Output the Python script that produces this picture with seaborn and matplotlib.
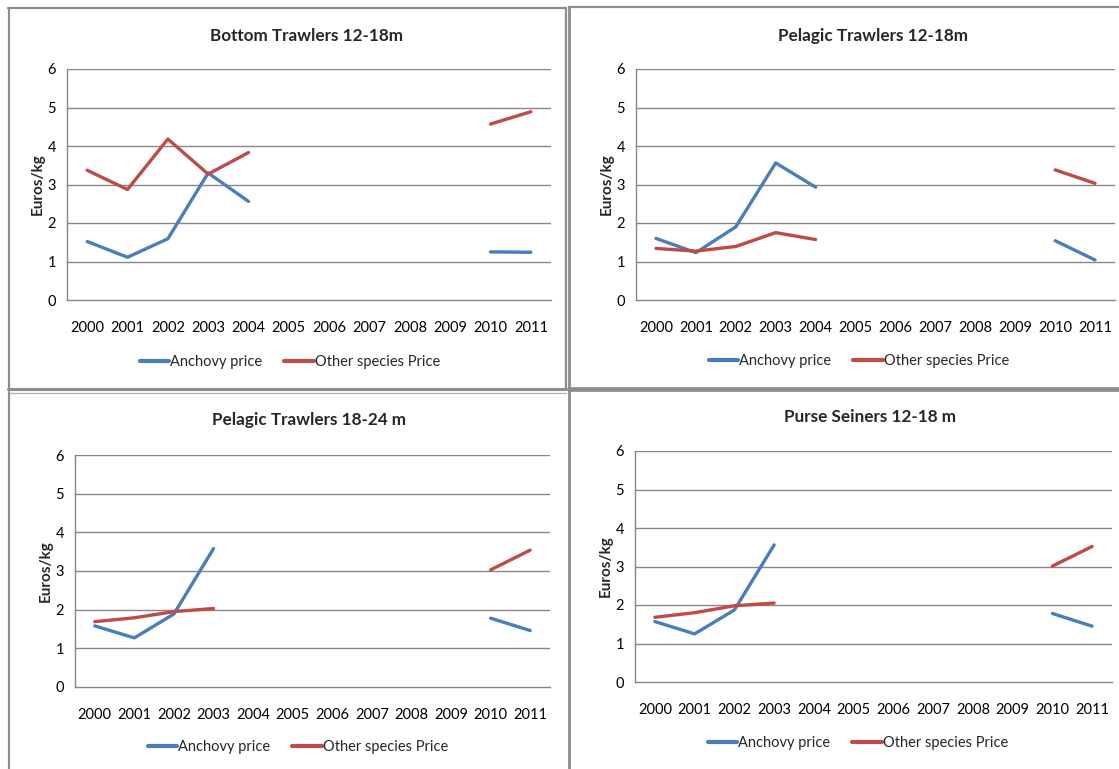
import numpy as np
import pandas as pd
import seaborn as sns
import matplotlib
matplotlib.use("Agg")
import matplotlib.pyplot as plt
from matplotlib.lines import Line2D

# ---- data -------------------------------------------------------------
years = ["2000", "2001", "2002", "2003", "2004", "2005",
         "2006", "2007", "2008", "2009", "2010", "2011"]
series_names = ["Anchovy price", "Other species Price"]

titles = ["Bottom Trawlers 12-18m", "Pelagic Trawlers 12-18m",
          "Pelagic Trawlers 18-24 m", "Purse Seiners 12-18 m"]

# Bottom trawlers 12-18m
bt_years = ["2000", "2001", "2002", "2003", "2004", "2010", "2011"]
bt_anchovy = [1.52, 1.11, 1.59, 3.30, 2.56, 1.25, 1.24]
bt_other = [3.37, 2.87, 4.18, 3.27, 3.83, 4.57, 4.89]

# Pelagic trawlers 12-18m
pt1_years = ["2000", "2001", "2002", "2003", "2004", "2010", "2011"]
pt1_anchovy = [1.60, 1.23, 1.90, 3.56, 2.93, 1.54, 1.04]
pt1_other = [1.34, 1.27, 1.39, 1.75, 1.57, 3.38, 3.03]

# Pelagic trawlers 18-24 m
pt2_years = ["2000", "2001", "2002", "2003", "2010", "2011"]
pt2_anchovy = [1.58, 1.27, 1.89, 3.58, 1.78, 1.46]
pt2_other = [1.69, 1.79, 1.95, 2.03, 3.03, 3.54]

# Purse seiners 12-18 m
ps_years = ["2000", "2001", "2002", "2003", "2010", "2011"]
ps_anchovy = [1.57, 1.25, 1.87, 3.56, 1.78, 1.45]
ps_other = [1.68, 1.80, 1.98, 2.05, 3.01, 3.52]

y_ticks = [0, 1, 2, 3, 4, 5, 6]

panels = [
    (bt_years, bt_anchovy, bt_other),
    (pt1_years, pt1_anchovy, pt1_other),
    (pt2_years, pt2_anchovy, pt2_other),
    (ps_years, ps_anchovy, ps_other),
]

BLUE = "#4A7EBB"
RED = "#BE4B48"
GRID = "#868686"
FRAME = "#8C8C8C"

sns.set_theme(style="white")
plt.rcParams["font.family"] = ["Lato", "DejaVu Sans"]

W, H = 1119, 769
fig = plt.figure(figsize=(W / 100, H / 100), dpi=100)
fig.patch.set_facecolor("white")

# plot areas in pixel coordinates: left, top, right, bottom
boxes = [
    (67, 69, 551, 300),
    (636, 69, 1115, 300),
    (75, 455, 550, 687),
    (635, 451, 1112, 682),
]
legend_y = [362, 361, 747, 743]
title_y = [36, 36, 420, 417]


def long_frame(yrs, anchovy, other):
    rows = []
    for name, vals in zip(series_names, (anchovy, other)):
        prev = None
        seg = 0
        for yr, v in zip(yrs, vals):
            idx = years.index(yr)
            if prev is not None and idx != prev + 1:
                seg += 1
            rows.append({"x": idx, "price": v, "series": name, "seg": seg})
            prev = idx
    return pd.DataFrame(rows)


for i, ((yrs, anc, oth), (l, t, r, b)) in enumerate(zip(panels, boxes)):
    ax = fig.add_axes([l / W, 1 - b / H, (r - l) / W, (b - t) / H])
    df = long_frame(yrs, anc, oth)
    sns.lineplot(data=df, x="x", y="price", hue="series", units="seg",
                 estimator=None, hue_order=series_names,
                 palette=[BLUE, RED], linewidth=2.4, ax=ax,
                 solid_capstyle="round", zorder=3, legend=False)

    ax.set_xlim(-0.5, len(years) - 0.5)
    ax.set_ylim(0, 6)
    ax.set_xticks(range(len(years)))
    ax.set_xticklabels(years)
    ax.set_yticks(y_ticks)
    ax.set_yticklabels([str(v) for v in y_ticks])
    ax.tick_params(axis="x", length=0, pad=15, labelsize=10.5, colors="black")
    ax.tick_params(axis="y", length=0, pad=8, labelsize=10.5, colors="black")
    for v in y_ticks[1:]:
        ax.axhline(v, color=GRID, linewidth=1.0, zorder=1)
    for side in ("top", "right"):
        ax.spines[side].set_visible(False)
    ax.spines["left"].set_color(GRID)
    ax.spines["bottom"].set_color(GRID)
    ax.spines["left"].set_linewidth(1.0)
    ax.spines["bottom"].set_linewidth(1.0)
    ax.set_xlabel("")
    ax.set_ylabel("Euros/kg", fontsize=11, fontweight="bold", labelpad=2)

    # title and legend placed relative to the panel
    cx = ((l + r) / 2 - 3) / W
    fig.text(cx, 1 - title_y[i] / H, titles[i], ha="center", va="center",
             fontsize=12.3, fontweight="bold")
    handles = [Line2D([], [], color=BLUE, linewidth=3),
               Line2D([], [], color=RED, linewidth=3)]
    fig.legend(handles, series_names, loc="center",
               bbox_to_anchor=((l + 223) / W, 1 - legend_y[i] / H),
               ncol=2, frameon=False, fontsize=10.5, handlelength=2.0,
               handletextpad=0.1, columnspacing=1.5)

# panel frames
def hline(y, x0, x1, lw, color=FRAME):
    fig.add_artist(Line2D([x0 / W, x1 / W], [1 - y / H, 1 - y / H],
                          color=color, linewidth=lw, transform=fig.transFigure))


def vline(x, y0, y1, lw, color=FRAME):
    fig.add_artist(Line2D([x / W, x / W], [1 - y0 / H, 1 - y1 / H],
                          color=color, linewidth=lw, transform=fig.transFigure))


vline(8.5, 8, 389, 1.6)
hline(8, 8, 566, 1.6)
vline(566, 8, 389, 1.6)
hline(388.5, 8, 566, 2.2)
vline(569, 7, 769, 2.0)
hline(7, 569, 1119, 1.6)
hline(388.5, 569, 1119, 3.4)
vline(9, 392, 769, 1.6)
hline(392.5, 9, 566, 0.9, "#B0B0B0")

fig.savefig("out.png", dpi=100, facecolor="white")
